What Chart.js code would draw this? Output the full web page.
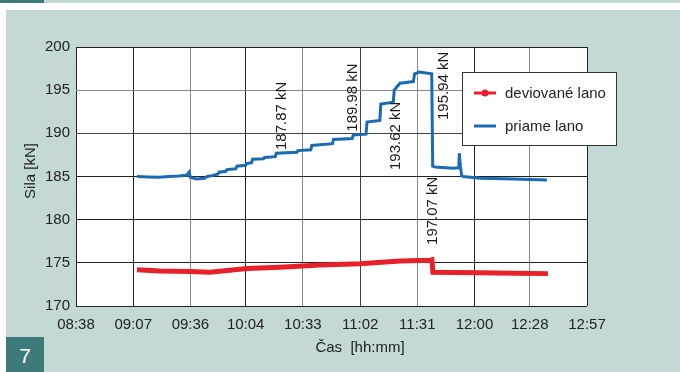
<!DOCTYPE html>
<html>
<head>
<meta charset="utf-8">
<script src="https://cdn.jsdelivr.net/npm/chart.js@4/dist/chart.umd.min.js"></script>
<style>
  body { margin: 0; background: #fff; }
  #marco { position: relative; width: 680px; height: 372px; overflow: hidden; background: #fff; }
  .franja { position: absolute; }
  #fondo { left: 6px; top: 10px; width: 674px; height: 362px; background: #c5d8d8; }
  #tiraOscura { left: 0; top: 0; width: 44px; height: 3px; background: #3d7b7b; }
  #tiraClara { left: 44px; top: 0; width: 636px; height: 3px; background: #c5d8d8; }
  #numero { left: 6px; top: 337px; width: 38px; height: 35px; background: #3d7b7b; color: #fff;
            font: 21px "Liberation Sans", Arial, sans-serif; text-align: center; line-height: 37px; }
  #miGrafico { position: absolute; left: 0; top: 0; }
</style>
</head>
<body>
<div id="marco">
  <div class="franja" id="fondo"></div>
  <div class="franja" id="tiraOscura"></div>
  <div class="franja" id="tiraClara"></div>
  <div class="franja" id="numero">7</div>
  <canvas id="miGrafico" width="680" height="372"></canvas>
</div>
<script>
// Etiquetas del eje X (hh:mm)
const etiquetasHora = ['08:38', '09:07', '09:36', '10:04', '10:33', '11:02', '11:31', '12:00', '12:28', '12:57'];

// Tiempos en minutos desde medianoche
const tiempoPriame = [548.9, 555, 560, 565, 570, 574, 575.3, 576, 579, 583, 584.5, 587, 590, 590.5, 594, 594.5,
  599, 599.5, 604, 604.5, 607, 607.5, 613, 613.5, 619, 619.5, 630, 630.5, 637, 637.5, 648, 648.5, 658, 658.5,
  665, 665.5, 672, 672.5, 678.8, 679.3, 682.2, 689, 689.6, 692, 698.3, 698.8, 700, 709, 712, 712.3, 712.8,
  713.5, 714.2, 722.8, 740, 756.7];
const valoresPriame = [185.0, 184.95, 184.9, 185.0, 185.05, 185.15, 185.5, 184.9, 184.7, 184.8, 185.0, 185.1,
  185.3, 185.5, 185.6, 185.8, 185.9, 186.2, 186.3, 186.5, 186.6, 187.0, 187.05, 187.2, 187.3, 187.7, 187.8,
  188.0, 188.1, 188.6, 188.8, 189.3, 189.4, 189.8, 189.9, 191.3, 191.5, 193.4, 193.6, 195.0, 195.8, 196.0,
  196.9, 197.1, 196.9, 186.2, 186.1, 185.95, 186.0, 187.7, 186.2, 185.1, 185.0, 184.8, 184.7, 184.6];

const tiempoDeviovane = [548.9, 560.6, 575.8, 585.9, 604.7, 621.4, 641.7, 661.9, 682.2, 697.4, 698.4, 698.9,
  722.8, 740, 757.2];
const valoresDeviovane = [174.2, 174.05, 174.0, 173.9, 174.35, 174.5, 174.75, 174.9, 175.2, 175.3, 175.35,
  173.9, 173.85, 173.8, 173.75];

// Anotaciones verticales (texto, tiempo, valor donde empieza el texto)
const textosKN = ['187.87 kN', '189.98 kN', '193.62 kN', '195.94 kN', '197.07 kN'];
const tiempoKN = [622.4, 658.4, 680.2, 704.5, 699.0];
const valorKN = [188.07, 190.19, 185.75, 191.54, 177.07];

const nombres = ['deviované lano', 'priame lano'];
const colores = ['#e8202a', '#1a6ab4'];

const fuente = '"Liberation Sans", Arial, Helvetica, sans-serif';

function aMinutos(hhmm) {
  const p = hhmm.split(':');
  return parseInt(p[0], 10) * 60 + parseInt(p[1], 10);
}

function puntos(tiempos, valores) {
  return tiempos.map((t, i) => ({ x: t, y: valores[i] }));
}

// Plugin: fondo blanco del área, textos, leyenda y títulos de ejes
const extras = {
  id: 'extras',
  beforeDraw(chart) {
    const a = chart.chartArea;
    const c = chart.ctx;
    c.save();
    c.fillStyle = '#ffffff';
    c.fillRect(a.left, a.top, a.right - a.left, a.bottom - a.top);
    c.restore();
  },
  afterDraw(chart) {
    const c = chart.ctx;
    const sx = chart.scales.x;
    const sy = chart.scales.y;
    c.save();
    c.fillStyle = '#1a1a1a';
    c.font = '15px ' + fuente;

    // anotaciones giradas
    textosKN.forEach((txt, i) => {
      c.save();
      c.translate(sx.getPixelForValue(tiempoKN[i]), sy.getPixelForValue(valorKN[i]));
      c.rotate(-Math.PI / 2);
      c.textAlign = 'left';
      c.textBaseline = 'middle';
      c.fillText(txt, 0, 0);
      c.restore();
    });

    // leyenda
    c.fillStyle = '#ffffff';
    c.fillRect(462.5, 72.5, 154, 73);
    c.strokeStyle = '#333';
    c.lineWidth = 1;
    c.strokeRect(462.5, 72.5, 154, 73);
    const filas = [93, 126];
    nombres.forEach((n, i) => {
      c.strokeStyle = colores[i];
      c.lineWidth = 3;
      c.beginPath();
      c.moveTo(474, filas[i]);
      c.lineTo(496, filas[i]);
      c.stroke();
      if (i === 0) {
        c.fillStyle = colores[i];
        c.beginPath();
        c.arc(485, filas[i], 3.5, 0, Math.PI * 2);
        c.fill();
      }
      c.fillStyle = '#222';
      c.textAlign = 'left';
      c.textBaseline = 'middle';
      c.fillText(n, 505, filas[i] + 1);
    });

    // títulos de ejes
    c.fillStyle = '#222';
    c.textAlign = 'center';
    c.textBaseline = 'middle';
    c.fillText('Čas  [hh:mm]', 360, 348);
    c.save();
    c.translate(31, 171);
    c.rotate(-Math.PI / 2);
    c.fillText('Sila [kN]', 0, 0);
    c.restore();
    c.restore();
  }
};

var ctx = document.getElementById('miGrafico').getContext('2d');

// tonos de la rejilla como en la imagen
const rejillaX = ['#222', '#222', '#8a8a8a', '#222', '#8a8a8a', '#444', '#8a8a8a', '#222', '#8a8a8a', '#222'];
const rejillaY = ['#222', '#222', '#222', '#222', '#444', '#8a8a8a', '#222'];

var miGrafico = new Chart(ctx, {
  type: 'line',
  data: {
    datasets: [{
      label: nombres[0],
      data: puntos(tiempoDeviovane, valoresDeviovane),
      borderColor: colores[0],
      borderWidth: 5,
      pointRadius: 0,
      tension: 0,
      fill: false
    }, {
      label: nombres[1],
      data: puntos(tiempoPriame, valoresPriame),
      borderColor: colores[1],
      borderWidth: 3,
      pointRadius: 0,
      tension: 0,
      fill: false
    }]
  },
  options: {
    responsive: false,
    animation: false,
    events: [],
    layout: { padding: { left: 0, top: 47, right: 93, bottom: 0 } },
    plugins: { legend: { display: false }, tooltip: { enabled: false } },
    scales: {
      x: {
        type: 'linear',
        min: aMinutos(etiquetasHora[0]),
        max: aMinutos(etiquetasHora[etiquetasHora.length - 1]),
        afterBuildTicks(scale) {
          scale.ticks = etiquetasHora.map(e => ({ value: aMinutos(e) }));
        },
        afterFit(scale) { scale.height = 66; },
        border: { display: false },
        grid: {
          drawTicks: false,
          color: c => rejillaX[c.index] || '#222',
          lineWidth: 1
        },
        ticks: {
          autoSkip: false,
          maxRotation: 0,
          padding: 10,
          color: '#222',
          font: { family: fuente, size: 15 },
          callback: (v, i) => etiquetasHora[i]
        }
      },
      y: {
        min: 170,
        max: 200,
        afterFit(scale) { scale.width = 76; },
        border: { display: false },
        grid: {
          drawTicks: false,
          color: c => rejillaY[c.index] || '#222',
          lineWidth: 1
        },
        ticks: {
          stepSize: 5,
          padding: 6,
          color: '#222',
          font: { family: fuente, size: 15 }
        }
      }
    }
  },
  plugins: [extras]
});
</script>
</body>
</html>
